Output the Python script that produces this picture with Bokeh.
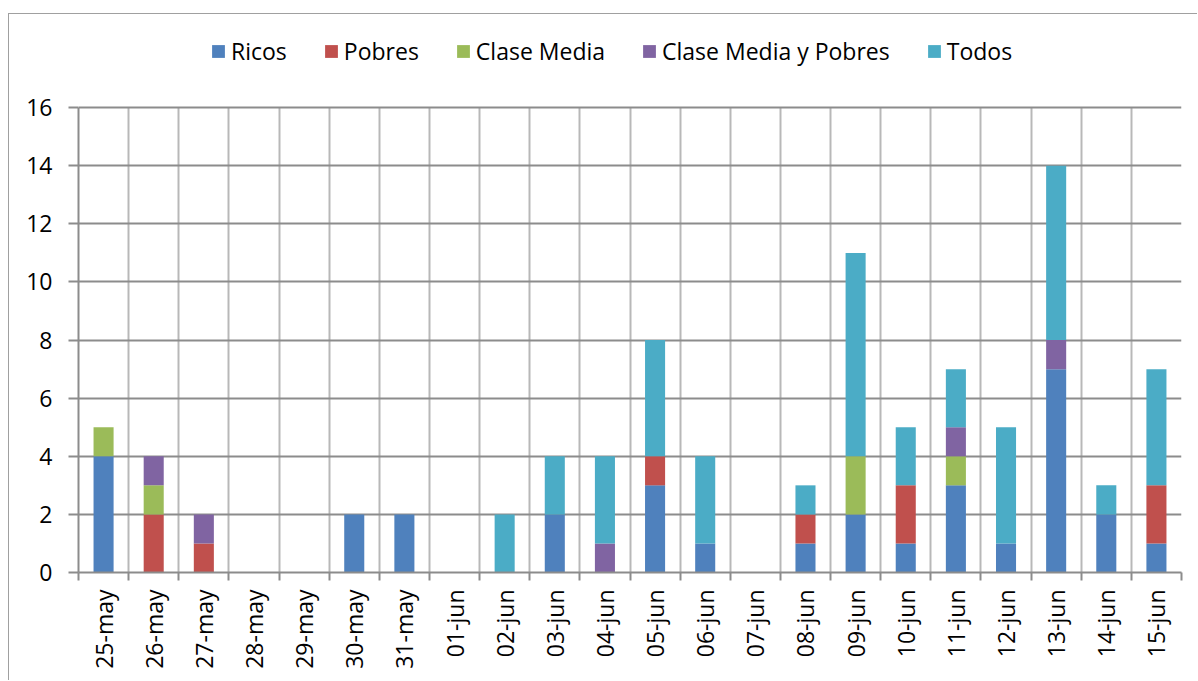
import math
from bokeh.plotting import figure
from bokeh.models import (Range1d, FixedTicker, CustomJSTickFormatter, Legend, LegendItem,
                          ColumnDataSource)
from bokeh.embed import file_html
from bokeh.resources import INLINE

# ---- data ----
dates = ["25-may", "26-may", "27-may", "28-may", "29-may", "30-may", "31-may",
         "01-jun", "02-jun", "03-jun", "04-jun", "05-jun", "06-jun", "07-jun",
         "08-jun", "09-jun", "10-jun", "11-jun", "12-jun", "13-jun", "14-jun", "15-jun"]
ricos       = [4, 0, 0, 0, 0, 2, 2, 0, 0, 2, 0, 3, 1, 0, 1, 2, 1, 3, 1, 7, 2, 1]
pobres      = [0, 2, 1, 0, 0, 0, 0, 0, 0, 0, 0, 1, 0, 0, 1, 0, 2, 0, 0, 0, 0, 2]
clase_media = [1, 1, 0, 0, 0, 0, 0, 0, 0, 0, 0, 0, 0, 0, 0, 2, 0, 1, 0, 0, 0, 0]
cm_pobres   = [0, 1, 1, 0, 0, 0, 0, 0, 0, 0, 1, 0, 0, 0, 0, 0, 0, 1, 0, 1, 0, 0]
todos       = [0, 0, 0, 0, 0, 0, 0, 0, 2, 2, 3, 4, 3, 0, 1, 7, 2, 2, 4, 6, 1, 4]

series_names = ["Ricos", "Pobres", "Clase Media", "Clase Media y Pobres", "Todos"]
series_keys = ["ricos", "pobres", "clase_media", "cm_pobres", "todos"]
colors = ["#4F81BD", "#C0504D", "#9BBB59", "#8064A2", "#4BACC6"]
y_ticks = [0, 2, 4, 6, 8, 10, 12, 14, 16]
y_axis_max = 16
y_frame_max = 19   # extra room at the top of the frame for the legend

FONT = "Open Sans"
FS = "23px"

n = len(dates)
centers = [i + 0.5 for i in range(n)]
bounds = list(range(n + 1))

source = ColumnDataSource(dict(x=centers, ricos=ricos, pobres=pobres,
                               clase_media=clase_media, cm_pobres=cm_pobres, todos=todos))

p = figure(width=1189, height=667, output_backend="svg", toolbar_location=None,
           x_range=Range1d(0, n), y_range=Range1d(0, y_frame_max),
           min_border_left=69, min_border_right=17, min_border_top=6, min_border_bottom=109)
p.outline_line_color = None
p.background_fill_color = "white"
p.border_fill_color = "white"
p.margin = (13, 0, 0, 8)
p.styles = {"border-top": "1px solid #A0A0A0", "border-left": "1px solid #A0A0A0"}

renderers = p.vbar_stack(series_keys, x="x", width=0.4, source=source,
                         color=colors, line_color=None)

# grids
p.xgrid.ticker = FixedTicker(ticks=bounds)
p.xgrid.cross_bounds = (0, y_axis_max)
p.xgrid.grid_line_color = "#B8B8B8"
p.xgrid.grid_line_width = 2
p.ygrid.ticker = FixedTicker(ticks=y_ticks)
p.ygrid.grid_line_color = "#8C8C8C"
p.ygrid.grid_line_width = 2

# x axis
xa = p.xaxis[0]
xa.ticker = FixedTicker(ticks=centers, minor_ticks=bounds)
xa.formatter = CustomJSTickFormatter(args=dict(labels=dates),
                                     code="return labels[Math.floor(tick)];")
xa.major_label_orientation = math.pi / 2
xa.major_tick_line_color = None
xa.major_tick_in = 0
xa.major_tick_out = 8
xa.minor_tick_in = 0
xa.minor_tick_out = 8
xa.minor_tick_line_color = "#8C8C8C"
xa.minor_tick_line_width = 2
xa.axis_line_color = "#8C8C8C"
xa.axis_line_width = 2
xa.major_label_text_font = FONT
xa.major_label_text_font_size = FS
xa.major_label_text_color = "black"
xa.major_label_standoff = 9

# y axis
ya = p.yaxis[0]
ya.ticker = FixedTicker(ticks=y_ticks)
ya.bounds = (0, y_axis_max)
ya.major_tick_in = 0
ya.major_tick_out = 10
ya.major_tick_line_color = "#8C8C8C"
ya.major_tick_line_width = 2
ya.minor_tick_line_color = None
ya.axis_line_color = "#8C8C8C"
ya.axis_line_width = 2
ya.major_label_text_font = FONT
ya.major_label_text_font_size = FS
ya.major_label_text_color = "black"
ya.major_label_standoff = 16

# legend
items = [LegendItem(label=name, renderers=[r]) for name, r in zip(series_names, renderers)]
legend = Legend(items=items, orientation="horizontal", location=(132, 505),
                glyph_width=16, glyph_height=16, label_standoff=5, spacing=36,
                padding=0, margin=0, border_line_color=None, background_fill_alpha=0,
                label_text_font=FONT, label_text_font_size=FS, label_text_color="black")
p.add_layout(legend, "center")

open("out.html", "w").write(file_html(p, INLINE))
